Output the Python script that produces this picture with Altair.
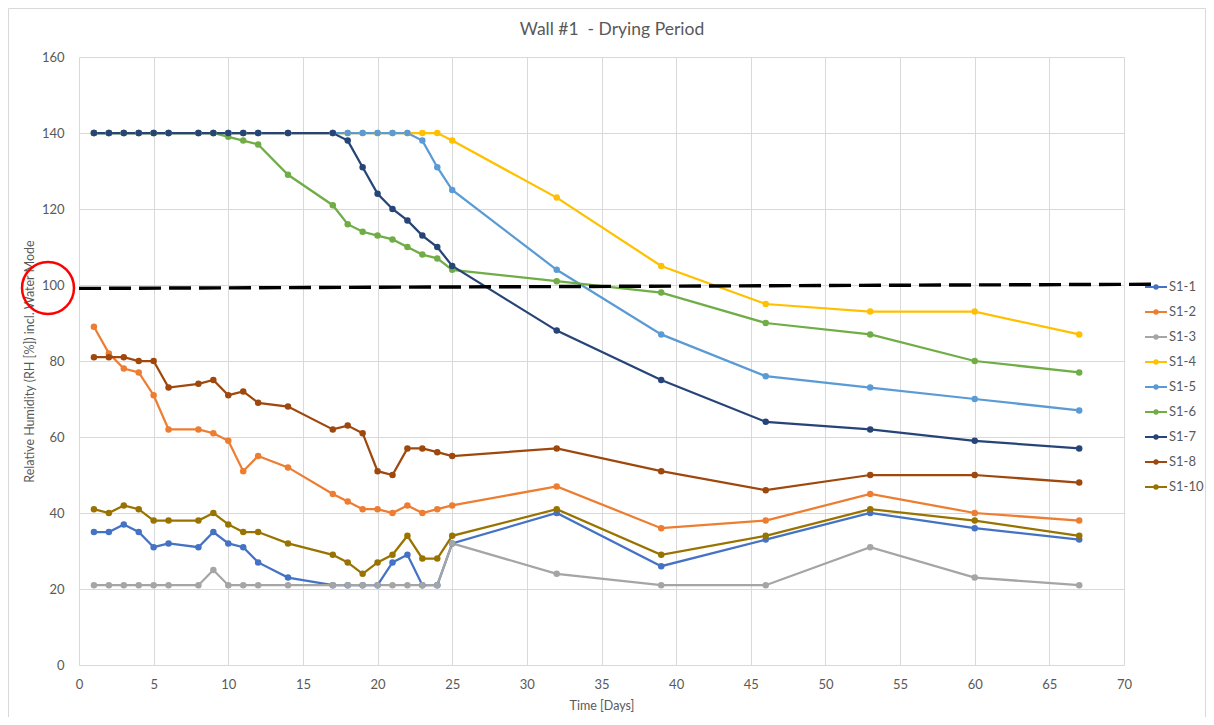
import altair as alt
import pandas as pd

days = [1, 2, 3, 4, 5, 6, 8, 9, 10, 11, 12, 14, 17, 18, 19, 20, 21, 22, 23, 24, 25, 32, 39, 46, 53, 60, 67]

s1_1 = [35, 35, 37, 35, 31, 32, 31, 35, 32, 31, 27, 23, 21, 21, 21, 21, 27, 29, 21, 21, 32, 40, 26, 33, 40, 36, 33]
s1_2 = [89, 82, 78, 77, 71, 62, 62, 61, 59, 51, 55, 52, 45, 43, 41, 41, 40, 42, 40, 41, 42, 47, 36, 38, 45, 40, 38]
s1_3 = [21, 21, 21, 21, 21, 21, 21, 25, 21, 21, 21, 21, 21, 21, 21, 21, 21, 21, 21, 21, 32, 24, 21, 21, 31, 23, 21]
s1_4 = [140] * 20 + [138, 123, 105, 95, 93, 93, 87]
s1_5 = [140] * 18 + [138, 131, 125, 104, 87, 76, 73, 70, 67]
s1_6 = [140] * 8 + [139, 138, 137, 129, 121, 116, 114, 113, 112, 110, 108, 107, 104, 101, 98, 90, 87, 80, 77]
s1_7 = [140] * 13 + [138, 131, 124, 120, 117, 113, 110, 105, 88, 75, 64, 62, 59, 57]
s1_8 = [81, 81, 81, 80, 80, 73, 74, 75, 71, 72, 69, 68, 62, 63, 61, 51, 50, 57, 57, 56, 55, 57, 51, 46, 50, 50, 48]
s1_10 = [41, 40, 42, 41, 38, 38, 38, 40, 37, 35, 35, 32, 29, 27, 24, 27, 29, 34, 28, 28, 34, 41, 29, 34, 41, 38, 34]

series_names = ["S1-1", "S1-2", "S1-3", "S1-4", "S1-5", "S1-6", "S1-7", "S1-8", "S1-10"]
series_values = [s1_1, s1_2, s1_3, s1_4, s1_5, s1_6, s1_7, s1_8, s1_10]
series_colors = ["#4472C4", "#ED7D31", "#A5A5A5", "#FFC000", "#5B9BD5", "#70AD47", "#264478", "#9E480E", "#997300"]

x_ticks = list(range(0, 71, 5))
y_ticks = list(range(0, 161, 20))
chart_title = "Wall #1\u00a0 - Drying Period"

rows = []
for name, vals in zip(series_names, series_values):
    for d, v in zip(days, vals):
        rows.append({"day": d, "rh": v, "series": name, "order": series_names.index(name)})
df = pd.DataFrame(rows)

W, H = 1045, 608
FONT = "Lato"
GREY = "#595959"

xs = alt.Scale(domain=[0, 70], nice=False)
ys = alt.Scale(domain=[0, 160], nice=False)

legend_symbol = "M-1,0L1,0M-0.15,0a0.15,0.15 0 1,0 0.3,0a0.15,0.15 0 1,0 -0.3,0"

color = alt.Color(
    "series:N",
    scale=alt.Scale(domain=series_names, range=series_colors),
    legend=alt.Legend(
        title=None, orient="none", legendX=1065, legendY=218,
        symbolType=legend_symbol, symbolSize=484, symbolStrokeWidth=2,
        labelFont=FONT, labelFontSize=13, labelColor=GREY, labelOffset=1,
        rowPadding=6, padding=0,
    ),
)

base = alt.Chart(df)

lines = base.mark_line(strokeWidth=2.25).encode(
    x=alt.X("day:Q", scale=xs,
            axis=alt.Axis(values=x_ticks, title="Time [Days]", grid=True, domain=False, ticks=False,
                          labelFlush=False, labelPadding=13, titlePadding=8)),
    y=alt.Y("rh:Q", scale=ys,
            axis=alt.Axis(values=y_ticks, title="Relative Humidity (RH [%]) incl. Water Mode", grid=True,
                          domain=False, ticks=False, labelFlush=False, labelPadding=15, titlePadding=5)),
    color=color,
    order="day:Q",
    detail="series:N",
)

points = base.mark_point(filled=True, size=42, opacity=1).encode(
    x=alt.X("day:Q", scale=xs),
    y=alt.Y("rh:Q", scale=ys),
    color=alt.Color("series:N", scale=alt.Scale(domain=series_names, range=series_colors), legend=None),
    order="order:Q",
)

dash_df = pd.DataFrame({"x0": [0], "x1": [71.9], "y0": [99.1], "y1": [100.2]})
dashed = alt.Chart(dash_df).mark_rule(color="black", strokeWidth=3.4, strokeDash=[22, 8], clip=False).encode(
    x=alt.X("x0:Q", scale=xs), x2="x1:Q",
    y=alt.Y("y0:Q", scale=ys), y2="y1:Q",
)

circle_df = pd.DataFrame({"y": [99.2], "label": [chart_title]})
circle = alt.Chart(circle_df).mark_point(shape="circle", filled=False, color="#FF0000",
                                         strokeWidth=2.5, size=2700, opacity=1, clip=False).encode(
    x=alt.value(-31),
    y=alt.Y("y:Q", scale=ys),
)

title_text = alt.Chart(circle_df).mark_text(font=FONT, fontSize=17.5, color=GREY, align="center",
                                            baseline="middle").encode(
    x=alt.value(533), y=alt.value(-27), text="label:N",
)

frame = alt.Chart(circle_df).mark_rect(fill=None, stroke="#D9D9D9", strokeWidth=1, clip=False).encode(
    x=alt.value(-70.5), x2=alt.value(1126.5), y=alt.value(-48.5), y2=alt.value(720),
)

chart = alt.layer(frame, lines, points, dashed, circle, title_text).properties(
    width=W, height=H,
    autosize=alt.AutoSizeParams(type="none"),
    padding={"left": 71, "top": 49, "right": 82, "bottom": 52},
).configure_axis(
    gridColor="#D9D9D9", gridWidth=1, labelFont=FONT, labelFontSize=13, labelColor=GREY,
    titleFont=FONT, titleFontSize=12.5, titleColor=GREY, titleFontWeight="normal",
).configure_view(stroke=None)

chart.save("out.html", embed_options={"renderer": "svg", "actions": False})
